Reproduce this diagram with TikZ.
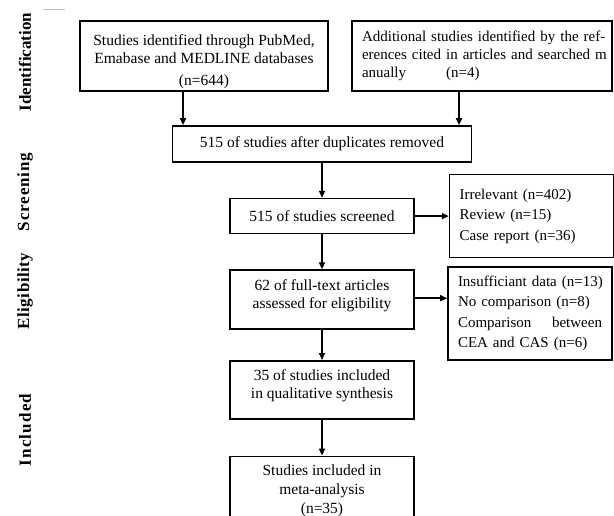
\documentclass[tikz,border=0pt]{standalone}
\usepackage{fontspec}
\setmainfont{Liberation Serif}
\usetikzlibrary{arrows.meta, positioning}

\begin{document}
\begin{tikzpicture}[
    x=1pt, y=-1pt,
    node distance=35pt,
    block/.style={draw, rectangle, line width=1.6pt, align=center, inner sep=0pt, font=\fontsize{15.5}{18}\selectfont},
    listbox/.style={draw, rectangle, line width=1.6pt, align=left, inner ysep=0pt, inner xsep=10pt, text width=#1, font=\fontsize{15}{20.5}\selectfont},
    phase/.style={rotate=90, font=\bfseries\fontsize{17}{18}\selectfont\addfontfeature{LetterSpace=#1}},
    arrow/.style={-{Triangle[length=7pt,width=6pt]}, line width=1.6pt}
]
\useasboundingbox (0,0) rectangle (614,516);

% Stage labels
\draw[gray!50, line width=1pt] (43,10) -- (65,10);
\node[phase=0] (ident) at (25,62) {Identification};
\node[phase=5] (screen) at (25,192) {Screening};
\node[phase=3] (elig) at (25,291) {Eligibility};
\node[phase=7] (incl) at (25,430) {Included};

% Identification
\node[block, minimum width=248pt, minimum height=70pt] (pubmed) at (204,56)
    {\rule{0pt}{23pt}Studies identified through PubMed,\\ Emabase and MEDLINE databases\\[4pt] (n=644)};
\node[listbox=240pt, minimum height=70pt, font=\fontsize{15}{18}\selectfont] (manual) at (482,56)
    {\mbox{Additional studies identified by the ref-}\\ \mbox{erences cited in articles and searched m}\\ anually\hspace{40pt}(n=4)};

% Screening
\node[block, minimum width=299pt, minimum height=36pt] (dedup) at (322,144)
    {515 of studies after duplicates removed};
\node[block, minimum width=184pt, minimum height=35pt, below=of dedup] (screened)
    {515 of studies screened};
\node[listbox=144pt, minimum height=83pt, right=34pt of screened] (excl1)
    {Irrelevant (n=402)\\ Review (n=15)\\ Case report (n=36)};

% Eligibility
\node[block, minimum width=184pt, minimum height=59pt, below=of screened] (fulltext)
    {62 of full-text articles\\ assessed for eligibility\rule[-12pt]{0pt}{0pt}};
\node[listbox=144pt, minimum height=93pt] (excl2) at (530,313.5)
    {\mbox{Insufficiant data (n=13)}\\ No comparison (n=8)\\ Comparison\hfill between\\ CEA and CAS (n=6)};

% Included
\node[block, minimum width=184pt, minimum height=58pt, below=30pt of fulltext] (qual)
    {35 of studies included\\ in qualitative synthesis\rule[-12pt]{0pt}{0pt}};
\node[block, minimum width=184pt, minimum height=68pt, below=36pt of qual, font=\fontsize{15.5}{19}\selectfont] (meta)
    {Studies included in\\ meta-analysis\\ (n=35)};

% Arrows
\draw[arrow] ([xshift=-21pt]pubmed.south) -- ([xshift=-21pt]pubmed.south |- dedup.north);
\draw[arrow] ([xshift=-23pt]manual.south) -- ([xshift=-23pt]manual.south |- dedup.north);
\draw[arrow] (dedup) -- (screened);
\draw[arrow] (screened) -- (excl1);
\draw[arrow] (screened) -- (fulltext);
\draw[arrow] ([yshift=1.5pt]fulltext.east) -- ([yshift=1.5pt]fulltext.east -| excl2.west);
\draw[arrow] (fulltext) -- (qual);
\draw[arrow] (qual) -- (meta);

\end{tikzpicture}
\end{document}
